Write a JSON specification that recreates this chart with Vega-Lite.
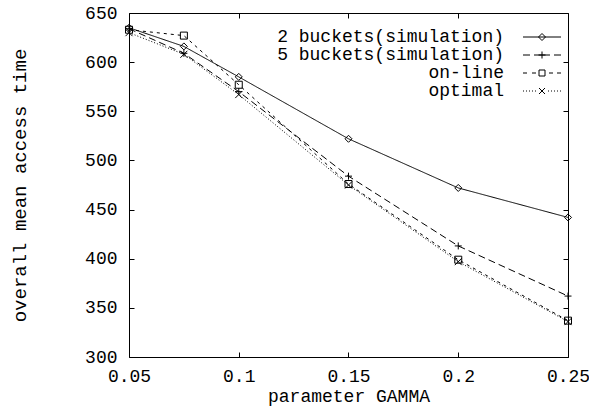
{
  "$schema": "https://vega.github.io/schema/vega-lite/v6.json",
  "width": 439,
  "height": 344,
  "autosize": "none",
  "padding": {"left": 129, "top": 13, "right": 21, "bottom": 50},
  "background": "white",
  "config": {
    "view": {"stroke": "black", "strokeWidth": 1},
    "font": "Liberation Mono",
    "axis": {
      "grid": false,
      "domain": false,
      "tickColor": "black",
      "tickSize": -5,
      "tickWidth": 1,
      "labelFlush": false,
      "labelOverlap": false,
      "labelFont": "Liberation Mono",
      "labelFontSize": 18,
      "labelColor": "black",
      "titleFont": "Liberation Mono",
      "titleFontSize": 18,
      "titleFontWeight": "normal",
      "titleColor": "black"
    },
    "legend": {
      "labelFont": "Liberation Mono",
      "labelFontSize": 18,
      "labelColor": "black"
    }
  },
  "data": {
    "values": [
      {"gamma": 0.05, "time": 635, "series": "2 buckets(simulation)"},
      {"gamma": 0.075, "time": 616, "series": "2 buckets(simulation)"},
      {"gamma": 0.1, "time": 585, "series": "2 buckets(simulation)"},
      {"gamma": 0.15, "time": 522, "series": "2 buckets(simulation)"},
      {"gamma": 0.2, "time": 472, "series": "2 buckets(simulation)"},
      {"gamma": 0.25, "time": 442, "series": "2 buckets(simulation)"},
      {"gamma": 0.05, "time": 634, "series": "5 buckets(simulation)"},
      {"gamma": 0.075, "time": 609, "series": "5 buckets(simulation)"},
      {"gamma": 0.1, "time": 570, "series": "5 buckets(simulation)"},
      {"gamma": 0.15, "time": 484, "series": "5 buckets(simulation)"},
      {"gamma": 0.2, "time": 413, "series": "5 buckets(simulation)"},
      {"gamma": 0.25, "time": 362, "series": "5 buckets(simulation)"},
      {"gamma": 0.05, "time": 633, "series": "on-line"},
      {"gamma": 0.075, "time": 627, "series": "on-line"},
      {"gamma": 0.1, "time": 577, "series": "on-line"},
      {"gamma": 0.15, "time": 476, "series": "on-line"},
      {"gamma": 0.2, "time": 399, "series": "on-line"},
      {"gamma": 0.25, "time": 337, "series": "on-line"},
      {"gamma": 0.05, "time": 630, "series": "optimal"},
      {"gamma": 0.075, "time": 608, "series": "optimal"},
      {"gamma": 0.1, "time": 567, "series": "optimal"},
      {"gamma": 0.15, "time": 475, "series": "optimal"},
      {"gamma": 0.2, "time": 397, "series": "optimal"},
      {"gamma": 0.25, "time": 336, "series": "optimal"}
    ]
  },
  "layer": [
    {
      "mark": {"type": "line", "color": "black", "strokeWidth": 1},
      "encoding": {
        "x": {
          "field": "gamma", "type": "quantitative",
          "scale": {"domain": [0.05, 0.25], "nice": false, "zero": false},
          "axis": {"orient": "bottom", "values": [0.05, 0.1, 0.15, 0.2, 0.25], "format": "~g", "title": "parameter GAMMA", "labelPadding": 15, "titlePadding": 2}
        },
        "y": {
          "field": "time", "type": "quantitative",
          "scale": {"domain": [300, 650], "nice": false, "zero": false},
          "axis": {"orient": "left", "values": [300, 350, 400, 450, 500, 550, 600, 650], "title": "overall mean access time", "titleFontSize": 19, "labelPadding": 17, "titlePadding": 55}
        },
        "strokeDash": {
          "field": "series", "type": "nominal",
          "scale": {"domain": ["2 buckets(simulation)", "5 buckets(simulation)", "on-line", "optimal"], "range": [[1, 0], [7, 4], [3, 4], [1, 2]]},
          "legend": null
        },
        "detail": {"field": "series"}
      }
    },
    {
      "mark": {"type": "point", "color": "black", "filled": false, "strokeWidth": 1, "size": 49, "opacity": 1},
      "encoding": {
        "x": {"field": "gamma", "type": "quantitative", "axis": null},
        "y": {"field": "time", "type": "quantitative", "axis": null},
        "shape": {
          "field": "series", "type": "nominal",
          "scale": {"domain": ["2 buckets(simulation)", "5 buckets(simulation)", "on-line", "optimal"], "range": ["diamond", "M-1,0H1M0,-1V1", "square", "M-1,-1L1,1M-1,1L1,-1"]},
          "legend": null
        }
      }
    },
    {
      "mark": {"type": "point", "color": "black", "filled": false, "strokeWidth": 1, "size": 4, "opacity": 0},
      "encoding": {
        "x": {"field": "gamma", "type": "quantitative", "axis": {"orient": "top", "values": [0.05, 0.1, 0.15, 0.2, 0.25], "labels": false, "title": null}},
        "y": {"field": "time", "type": "quantitative", "axis": {"orient": "right", "values": [300, 350, 400, 450, 500, 550, 600, 650], "labels": false, "title": null}},
        "shape": {
          "field": "series", "type": "nominal",
          "scale": {"domain": ["2 buckets(simulation)", "5 buckets(simulation)", "on-line", "optimal"], "range": [
            "M-19,0H19M-3.5,0L0,-3.5L3.5,0L0,3.5Z",
            "M-19,0H-12M-8,0H8M12,0H19M-3.5,0H3.5M0,-3.5V3.5",
            "M-19,0H-15M-10,0H-6M-3,-3H3V3H-3ZM7,0H11M15,0H19",
            "M-19,0H-18M-16,0H-15M-13,0H-12M-10,0H-9M-7,0H-6M-3,-3L3,3M-3,3L3,-3M6,0H7M9,0H10M12,0H13M15,0H16M18,0H19"
          ]},
          "legend": {
            "title": null,
            "orient": "none",
            "legendX": 404,
            "legendY": 15,
            "padding": 0,
            "offset": 0,
            "symbolSize": 4,
            "symbolStrokeWidth": 1,
            "symbolOpacity": 1,
            "symbolStrokeColor": "black",
            "labelAlign": "right",
            "labelOffset": -47,
            "labelLimit": 400,
            "rowPadding": 0
          }
        }
      }
    }
  ],
  "resolve": {
    "axis": {"x": "independent", "y": "independent"},
    "scale": {"shape": "independent"},
    "legend": {"shape": "independent"}
  }
}
